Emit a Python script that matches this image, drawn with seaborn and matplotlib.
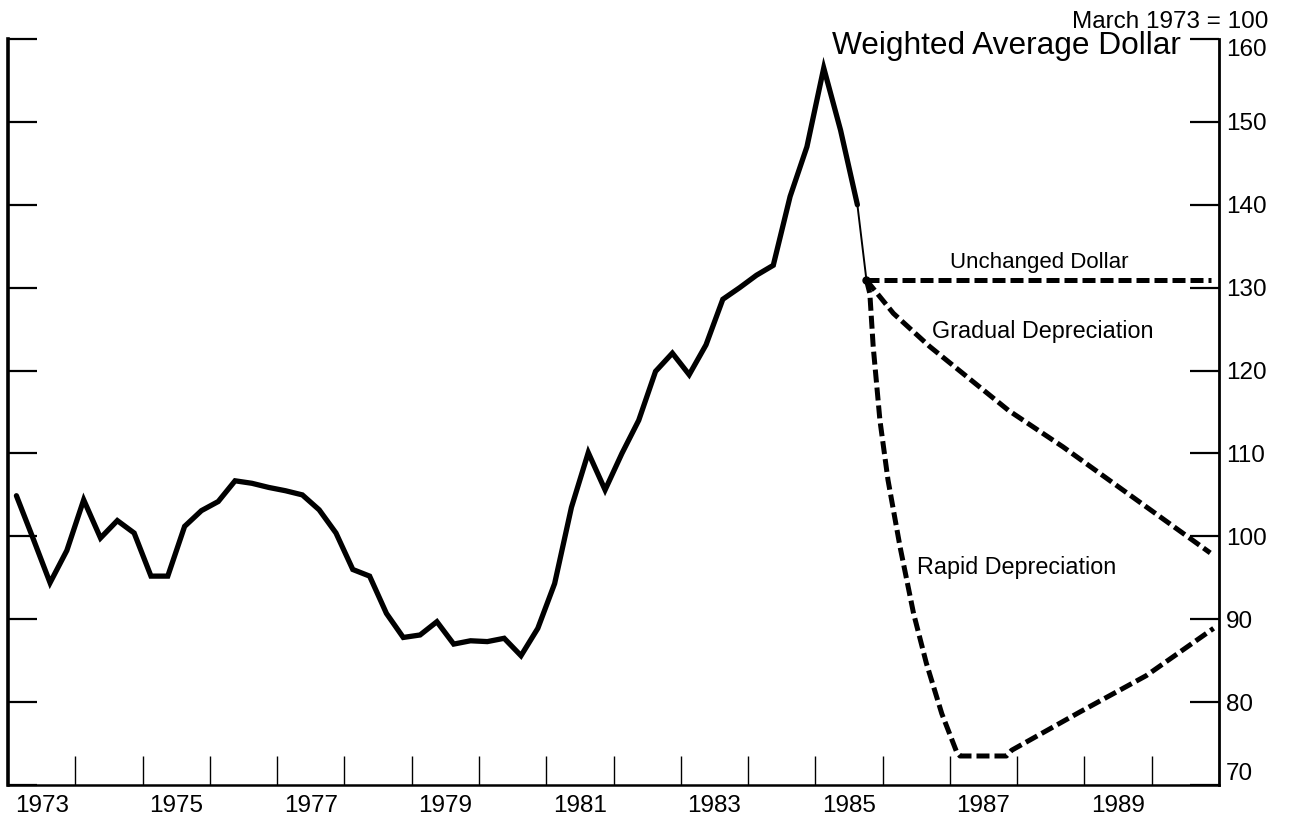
import numpy as np
import pandas as pd
import matplotlib
matplotlib.use("Agg")
import matplotlib.pyplot as plt
import seaborn as sns

# quarterly index, March 1973 = 100 (quarter midpoints from 1973Q1)
dollar_values = [
	104.9, 99.7, 94.4, 98.3,
	104.4, 99.8, 101.9, 100.4,
	95.2, 95.2, 101.2, 103.1,
	104.2, 106.7, 106.4, 105.9,
	105.5, 105.0, 103.2, 100.4,
	96.0, 95.2, 90.7, 87.8,
	88.1, 89.7, 87.0, 87.4,
	87.3, 87.7, 85.6, 88.9,
	94.3, 103.5, 110.1, 105.6,
	110.0, 114.0, 119.9, 122.1,
	119.5, 123.1, 128.6, 130.0,
	131.5, 132.7, 141.0, 147.0,
	156.5, 149.0, 140.0,
]
latest_year = 1985.76
latest_value = 130.9

unchanged_years = [1985.76, 1990.88]
unchanged_values = [130.9, 130.9]

gradual_years = [1985.76, 1986.16, 1986.70, 1987.87, 1988.68, 1990.87]
gradual_values = [130.9, 126.9, 122.9, 115.2, 110.8, 98.0]

rapid_years = [1985.76, 1985.81, 1985.86, 1985.96, 1986.08, 1986.26, 1986.46,
	1986.65, 1986.88, 1987.10, 1987.15, 1987.84, 1987.92, 1988.93, 1989.92, 1990.92]
rapid_values = [130.9, 129.3, 122.9, 114.0, 106.8, 98.7, 90.7,
	84.7, 78.6, 74.0, 73.5, 73.5, 74.2, 78.8, 83.2, 88.9]

year_labels = ["1973", "1975", "1977", "1979", "1981", "1983", "1985", "1987", "1989"]
y_ticks = [70, 80, 90, 100, 110, 120, 130, 140, 150, 160]

FONT = ["Liberation Sans", "DejaVu Sans"]


def main():
	sns.set_style("ticks")
	plt.rcParams["font.family"] = FONT
	plt.rcParams["text.color"] = "black"
	plt.rcParams["xtick.color"] = "black"
	plt.rcParams["ytick.color"] = "black"

	fig = plt.figure(figsize=(12.89, 8.16), dpi=100)
	ax = fig.add_axes([8 / 1289, 1 - 785 / 816, (1219 - 8) / 1289, (785 - 39) / 816])

	dollar = pd.DataFrame({
		"year": 1973.125 + 0.25 * np.arange(len(dollar_values)),
		"value": dollar_values,
	})
	sns.lineplot(data=dollar, x="year", y="value", color="black", lw=3.8,
		ax=ax, solid_joinstyle="miter")
	ax.plot([dollar["year"].iloc[-1], latest_year], [dollar_values[-1], latest_value],
		color="black", lw=1.4)
	ax.plot([latest_year], [latest_value], "o", color="black", ms=5)

	dash = (0, (2.6, 1.0))
	for xs, ys in [(unchanged_years, unchanged_values),
			(gradual_years, gradual_values),
			(rapid_years, rapid_values)]:
		sns.lineplot(x=xs, y=ys, color="black", lw=3.6, linestyle=dash, ax=ax, sort=False)

	ax.set_xlim(1973, 1991)
	ax.set_ylim(70, 160)
	ax.set_xlabel("")
	ax.set_ylabel("")

	ax.set_xticks([int(y) + 0.5 for y in year_labels])
	ax.set_xticklabels(year_labels)
	ax.set_xticks(range(1974, 1991), minor=True)
	ax.tick_params(axis="x", which="major", length=0, pad=7, labelsize=17.5)
	ax.tick_params(axis="x", which="minor", direction="in", length=21, width=1.0,
		bottom=True, top=False)

	ax.set_yticks(y_ticks)
	ax.tick_params(axis="y", which="major", direction="in", length=21, width=1.6,
		left=True, right=True, labelleft=False, labelright=True, labelsize=17.5, pad=5)
	ax.tick_params(axis="y", which="minor", left=False, right=False)
	# end labels sit inside the axis box, as in the original
	ticks = ax.yaxis.get_major_ticks()
	ticks[0].label2.set_va("bottom")
	ticks[-1].label2.set_va("top")

	ax.spines["top"].set_visible(False)
	ax.spines["left"].set_linewidth(2.6)
	ax.spines["right"].set_linewidth(2.0)
	ax.spines["bottom"].set_linewidth(1.8)
	for s in ax.spines.values():
		s.set_color("black")

	ax.text(1985.25, 158.2, "Weighted Average Dollar", fontsize=22.8, va="baseline")
	ax.text(1987.0, 132.4, "Unchanged Dollar", fontsize=16, va="baseline")
	ax.text(1986.73, 123.9, "Gradual Depreciation", fontsize=16.8, va="baseline")
	ax.text(1986.51, 95.45, "Rapid Depreciation", fontsize=16.8, va="baseline")
	fig.text(1268 / 1289, 1 - 22 / 816, "March 1973 = 100", fontsize=17.5,
		ha="right", va="center")

	fig.savefig("out.png", dpi=100, facecolor="white")


if __name__ == "__main__":
	main()
